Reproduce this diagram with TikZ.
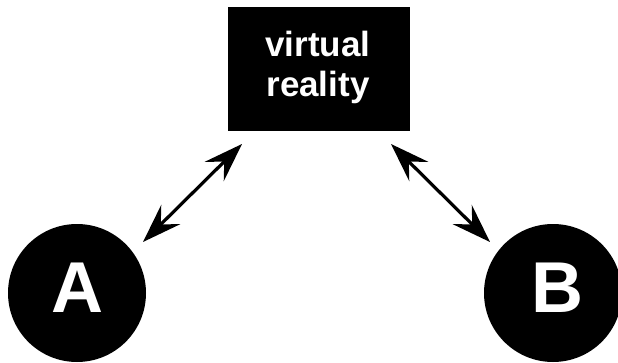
\documentclass[tikz,border=0pt]{standalone}
\usepackage{fontspec}
\setmainfont{Liberation Sans}
\usetikzlibrary{arrows.meta}
\begin{document}
\begin{tikzpicture}[x=1pt,y=1pt,
  vrbox/.style={fill=black, draw=none, minimum width=182pt, minimum height=124pt, inner sep=0pt},
  agent/.style={circle, fill=black, draw=none, minimum size=138pt, inner sep=0pt},
  agentlabel/.style={text=white, font=\fontsize{72}{72}\selectfont\bfseries, inner sep=0pt},
  vrlabel/.style={text=white, align=center, font=\fontsize{35}{40}\selectfont\bfseries, inner sep=0pt},
  dbl/.style={line width=3.2pt, {Stealth[length=39pt,width=27pt,inset=14pt]}-{Stealth[length=39pt,width=27pt,inset=14pt]}}]
\useasboundingbox (0,0) rectangle (618,362);
\node[vrbox] (vr) at (319,293) {};
\node[vrlabel] (vrtext) at (318,295) {virtual\\reality};
\node[agent] (A) at (77,69) {};
\node[agentlabel] (Alabel) at (77.5,74.5) {A};
\node[agent] (B) at (553,69) {};
\node[agentlabel] (Blabel) at (557,74.5) {B};
\coordinate (a1) at (143,120);
\coordinate (v1) at (242,218);
\coordinate (v2) at (391,218);
\coordinate (b1) at (490,120);
\draw[dbl] (a1) -- (v1);
\draw[dbl] (v2) -- (b1);
\end{tikzpicture}
\end{document}
